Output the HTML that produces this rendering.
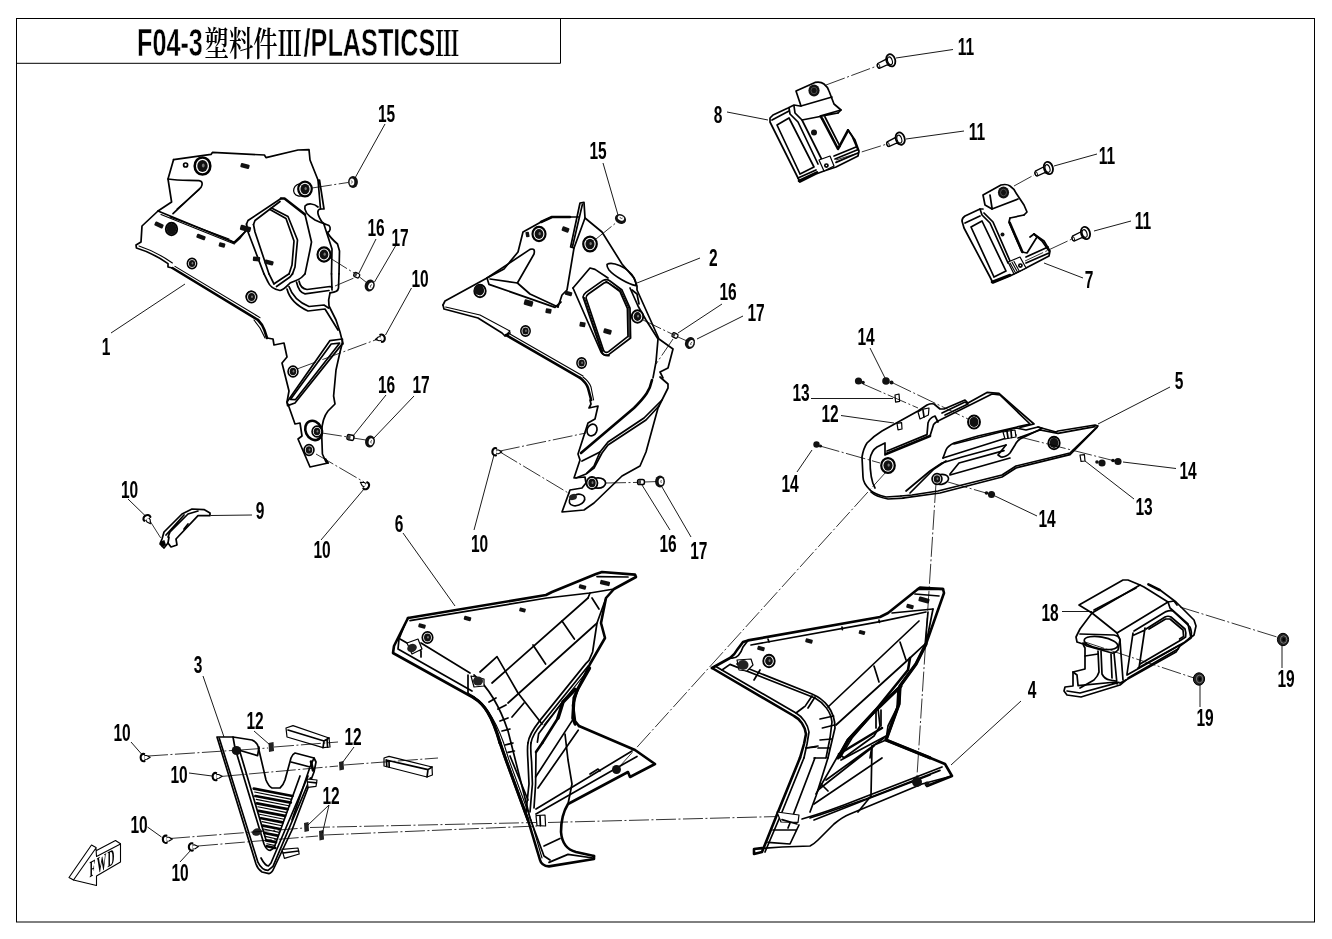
<!DOCTYPE html>
<html lang="zh"><head><meta charset="utf-8"><title>F04-3 PLASTICS III</title>
<style>
html,body{margin:0;padding:0;background:#fff;}
svg{display:block}
.p{fill:none;stroke:#000;stroke-width:1.7;stroke-linejoin:round;stroke-linecap:round}
.t{fill:none;stroke:#000;stroke-width:1.1;stroke-linejoin:round;stroke-linecap:round}
.b{fill:none;stroke:#000;stroke-width:2.6;stroke-linejoin:round;stroke-linecap:round}
.w{fill:#fff;stroke:#000;stroke-width:1.2;stroke-linejoin:round}
.k{fill:#000;stroke:none}
.ld{fill:none;stroke:#000;stroke-width:0.9}
.cl{fill:none;stroke:#000;stroke-width:0.8;stroke-dasharray:20 2.5 2 2.5}
.n{font-family:"Liberation Sans","Noto Sans CJK SC",sans-serif;font-weight:bold;font-size:23.5px;fill:#000;text-anchor:middle}
.ti{font-family:"Liberation Sans","Noto Serif CJK SC",sans-serif;font-weight:bold;font-size:38px;fill:#000}
</style></head><body>
<svg width="1332" height="939" viewBox="0 0 1332 939" style="will-change:transform;opacity:0.999">
<rect width="1332" height="939" fill="#fff"/>
<!-- 00_frame.svg -->
<g id="frame">
<rect x="16.5" y="18.5" width="1298" height="903.5" fill="none" stroke="#000" stroke-width="1"/>
<path d="M16.5,63.3H560.5V18.5" fill="none" stroke="#000" stroke-width="1"/>
<g class="ti">
<text transform="translate(137,55.6) scale(0.664,1)" stroke="#fff" stroke-width="0.5" paint-order="fill stroke">F04-3</text>
<text transform="translate(204.6,56.2) scale(0.716,1)" style="font-weight:600;font-size:34px">塑料件Ⅲ</text>
<text transform="translate(303.6,55.6) scale(0.664,1)" stroke="#fff" stroke-width="0.5" paint-order="fill stroke">/PLASTICS</text>
<text transform="translate(435,56.2) scale(0.716,1)" style="font-weight:600;font-size:34px">Ⅲ</text>
</g>
</g>

<!-- 01_defs.svg -->
<defs>
<g id="grom"><ellipse rx="5.2" ry="5.7" fill="#fff" stroke="#000" stroke-width="1.7"/><ellipse rx="3.5" ry="4" fill="#111"/><ellipse cx="0.5" cy="-0.3" rx="0.9" ry="1.3" fill="#777"/></g>
<g id="clip"><rect x="-4.5" y="-2.2" width="9" height="4.4" rx="1" fill="#111"/></g>
<g id="scr"><path d="M1.2,-2 L4,-1.9 L7.4,0 L4,1.9 L1.2,2 Z" fill="#fff" stroke="#000" stroke-width="1.1" stroke-linejoin="round"/><path d="M1.6,-3.6 C-3.4,-4.6 -3.4,4.6 1.6,3.6" fill="#fff" stroke="#000" stroke-width="2.1" stroke-linecap="round"/></g>
<g id="ring"><ellipse rx="5.2" ry="6.4" fill="#111"/><ellipse cx="1.1" rx="2.5" ry="3.7" fill="#fff"/><path d="M1.8,-1.6 C0.6,-0.8 0.6,0.8 1.8,1.6" fill="none" stroke="#000" stroke-width="0.7"/></g>
<g id="pin"><rect x="-3.4" y="-2.6" width="6.8" height="5.2" rx="1.8" fill="#fff" stroke="#000" stroke-width="1.5"/><rect x="-3" y="-2.2" width="3" height="4.4" rx="1.2" fill="#444"/></g>
</defs>
<style>.p,.t,.b,.w,.cl,.ld{vector-effect:non-scaling-stroke}</style>

<!-- 10_part1.svg -->
<g id="part1">
<!-- view A 5x origin 120,140 -->
<g transform="translate(120,140) scale(0.2)">
<path class="p" d="M268,98 L455,72 L462,62 L722,75 L730,88 L890,50 L945,48 L950,100 L990,200"/>
<path class="p" d="M268,98 L240,195 L258,310 L190,355 L110,430 L105,510 L80,525 L82,540 C150,560 200,590 240,618 L240,635 L262,640"/>
<path class="b" d="M262,640 L690,900"/>
<path class="t" d="M95,530 C150,548 210,578 262,615"/>
<path class="t" d="M275,632 L700,888"/>
<path class="p" d="M240,195 C300,205 350,200 395,203 C414,206 414,222 405,237 L265,368"/>
<path class="t" d="M285,345 L398,247"/>
<path class="p" d="M190,355 L570,512 L635,450"/>
<path class="t" d="M250,385 L545,495"/>
<path class="t" d="M205,372 L572,520"/>
<circle class="p" cx="328" cy="125" r="10"/>
</g>
<use href="#grom" transform="translate(202.5,166) scale(1.5)"/>
<use href="#clip" transform="translate(245,166) rotate(15)"/>
<use href="#clip" transform="translate(159,225) rotate(25)"/>
<use href="#grom" transform="translate(171.5,229) scale(1.1)"/>
<ellipse cx="171.5" cy="229" rx="5" ry="5.5" fill="#111"/>
<use href="#clip" transform="translate(201,237) rotate(20)"/>
<use href="#clip" transform="translate(222,245) rotate(15) scale(0.7,1)"/>
<use href="#grom" transform="translate(192,263.5) scale(0.9)"/>
<use href="#grom" transform="translate(251,296.5) scale(0.9)"/>
<!-- view B 10x origin 230,180 -->
<g transform="translate(230,180) scale(0.1)">
<path class="p" d="M880,0 L905,290 L940,290 L895,0"/>
<path class="p" d="M880,270 C840,235 780,228 750,260 C738,300 760,345 850,400 C900,425 950,440 990,455 C1010,475 1005,515 975,525"/>
<path class="p" d="M905,290 C865,295 870,345 920,420 L950,445"/>
<path class="p" d="M975,525 C1000,575 1040,610 1075,640 L1095,710 L1090,939"/>
<path class="p" d="M940,445 L1020,690 L1015,939"/>
<path class="p" d="M165,440 L180,405 L510,185"/>
<path class="b" d="M510,185 L545,185 L750,345"/>
<path class="p" d="M750,345 L815,620 L800,700 L750,939"/>
<path class="p" d="M235,445 L250,405 L500,215"/>
<path class="p" d="M400,295 L560,385 L640,610 L620,850 L590,939"/>
<path class="p" d="M415,280 L580,365 L675,600 L650,870 L625,939"/>
<path class="p" d="M165,440 L180,520 L340,939"/>
<path class="p" d="M235,445 L250,520 L390,939"/>
<path class="p" d="M0,605 L45,630 L100,580 L165,500"/>
</g>
<use href="#clip" transform="translate(245.5,228.5) rotate(15) scale(1.2)"/>
<use href="#clip" transform="translate(256.5,259) rotate(5) scale(0.8,1)"/>
<use href="#clip" transform="translate(269,262.5) rotate(15)"/>
<ellipse cx="300" cy="190" rx="6.5" ry="6" fill="#fff" stroke="#000" stroke-width="1.3" transform="rotate(-30,300,190)"/>
<use href="#grom" transform="translate(305,189) scale(1.3)"/>
<use href="#grom" transform="translate(324,254.5) scale(1.25)"/>

<!-- view B2 10x origin 230,250 -->
<g transform="translate(230,250) scale(0.1)">
<path class="p" d="M340,239 L380,320 C400,370 450,395 500,405 C540,400 570,360 600,330 C640,310 690,300 720,270 L750,239"/>
<path class="p" d="M390,239 L440,340"/>
<path class="p" d="M590,239 L580,245 L445,335"/>
<path class="p" d="M625,239 L600,270 L465,365"/>
<path class="p" d="M1015,239 L1020,400"/>
<path class="p" d="M1090,239 L1085,380 C1080,410 1060,420 1000,428"/>
<path class="p" d="M690,310 C700,360 730,390 770,395 L1000,365 L1020,372"/>
<path class="p" d="M665,320 C680,390 710,430 750,438 L990,405"/>
<path class="p" d="M570,390 C590,470 650,550 780,610 L950,590 L1080,800"/>
<path class="p" d="M590,365 C615,440 680,520 790,565 L940,550 L985,580"/>
<path class="p" d="M1000,430 C985,480 985,530 990,560 L1060,700 L1100,820 L1130,939"/>
</g>
<use href="#grom" transform="translate(251.5,297)"/>
<!-- view C 5x origin 220,300 -->
<g transform="translate(220,300) scale(0.2)">
<path class="b" d="M190,100 C205,115 215,130 222,150 L235,190"/>
<path class="p" d="M235,190 L265,195 L270,225 L320,215 L335,285 L310,315 L345,455 L335,510 L345,535 L375,620 L400,615 L410,680 L390,695 L450,835 L540,815 L528,795"/>
<path class="t" d="M170,100 L200,140 L225,190"/>
<path class="p" d="M612,215 L600,260 L580,350 L568,480 L575,520 L540,555 C520,580 510,620 508,660 L512,770 L530,810 L540,815"/>
<path class="p" d="M335,510 L550,203 L612,195 L612,218 L375,515 L338,528 Z"/>
<path class="p" d="M352,497 L556,220 L598,216 L378,498 Z"/>
<ellipse class="b" cx="468" cy="652" rx="40" ry="50" transform="rotate(-25,468,652)"/>
</g>
<use href="#grom" transform="translate(293,371.5) scale(0.95)"/>
<use href="#grom" transform="translate(317,431.5) scale(0.95)"/>
<use href="#grom" transform="translate(309,450) scale(0.95)"/>
</g>

<!-- 11_part2.svg -->
<g id="part2">
<!-- view D 5x origin 430,190 -->
<g transform="translate(430,190) scale(0.2)">
<path class="p" d="M65,575 L75,555 L285,440 L370,395 L440,310 L465,210 L555,160 L610,135 L745,135"/>
<path class="b" d="M555,160 L610,135 L700,135"/>
<path class="p" d="M750,65 L770,62 L775,140 L720,290 L703,285 Z"/>
<path class="p" d="M762,72 L712,285"/>
<path class="p" d="M775,140 L860,210 L960,370 L1020,440 L1035,480 L1035,500 L1145,745 L1215,795 L1190,890 L1150,910 L1165,939"/>
<path class="p" d="M720,290 L685,500 L660,525 L640,585"/>
<path class="p" d="M285,440 L500,297 Q528,288 520,320 L437,465 L300,445"/>
<path class="p" d="M437,465 L500,520 L640,585"/>
<path class="p" d="M285,440 L295,472 L625,587 L655,560"/>
<path class="p" d="M65,575 L70,595 L240,640 L360,715 L375,730 L400,715"/>
<path class="t" d="M78,585 L250,625 L400,705 L375,730"/>
<path class="b" d="M380,725 L750,939"/>
<path class="t" d="M395,718 L765,930"/>
<path class="p" d="M715,490 L800,390 L825,397 L890,440"/>
<path class="p" d="M715,490 L855,810 C865,825 880,830 895,828"/>
<path class="p" d="M765,535 C765,525 770,520 780,512 L865,452 C880,445 890,448 900,455 L960,500 L1000,590 L1003,740 L895,822 C880,830 865,825 860,812 Z"/>
<path class="p" d="M780,540 C780,530 785,525 792,520 L870,465 C880,460 888,462 896,468 L950,508 L987,592 L990,732 L893,808 C882,815 872,812 868,802 Z"/>
<path class="t" d="M772,538 L864,808 M878,455 L955,505 L994,590 L996,736"/>
<path class="p" d="M885,372 C910,355 990,385 1020,440 C1030,460 1032,470 1030,478 C990,470 920,430 895,400 C888,390 884,380 885,372 Z"/>
<path class="p" d="M1000,490 L1040,580 L1080,650 L1140,745 L1130,860 L1115,939"/>
<path class="p" d="M1010,500 L1035,520 L1045,570"/>
</g>
<use href="#grom" transform="translate(539,234) scale(1.25)"/>
<use href="#grom" transform="translate(590,244) scale(1.3)"/>
<use href="#grom" transform="translate(480,291) scale(1.1)"/>
<ellipse cx="479" cy="290" rx="5" ry="5" fill="#111"/>
<use href="#grom" transform="translate(525.5,331) scale(0.9)"/>
<use href="#grom" transform="translate(581.6,363) scale(0.9)"/>
<use href="#grom" transform="translate(637.5,316.5) scale(1.1)"/>
<use href="#clip" transform="translate(527.5,234.5) rotate(80) scale(0.6,0.8)"/>
<use href="#clip" transform="translate(565.5,229.5) rotate(20) scale(0.8,1.1)"/>
<use href="#clip" transform="translate(528.5,303) rotate(15) scale(1,1.3)"/>
<use href="#clip" transform="translate(548.5,311) rotate(10) scale(0.65,1.1)"/>
<use href="#clip" transform="translate(582.5,324.5) rotate(10) scale(0.65,1.1)"/>
<use href="#clip" transform="translate(607.5,331.5) rotate(15) scale(0.9,1.1)"/>
<use href="#clip" transform="translate(568.5,293.5) rotate(15) scale(0.8,0.9)"/>
<!-- view E 5x origin 470,340 -->
<g transform="translate(470,340) scale(0.2)">
<path class="p" d="M950,185 L990,220 L990,240 L960,300 L940,340 L880,560 L850,630 L760,680 L620,815 L570,850 L460,860 L500,750 L560,740 L580,715 L575,685 L520,690 L550,600 L540,570 L590,415 L625,395 L640,330 L595,340 L605,320 L600,300"/>
<path class="b" d="M550,189 C570,205 585,225 590,240 L606,300"/>
<path class="t" d="M565,185 C585,200 600,220 605,235 L618,300"/>
<path class="b" d="M910,200 C900,250 880,280 820,340 L555,565"/>
<path class="p" d="M960,300 L870,390 L690,510 L650,560 L560,605"/>
<path class="p" d="M945,330 L880,400 L690,525 L660,565 L620,640 L580,670 L530,690"/>
<path class="p" d="M650,560 L620,630 L585,665"/>
<ellipse class="p" cx="610" cy="450" rx="24" ry="30" transform="rotate(25,610,450)"/>
<ellipse class="p" cx="640" cy="715" rx="38" ry="26"/>
<ellipse class="p" cx="535" cy="800" rx="40" ry="27" transform="rotate(-20,535,800)"/>
</g>
<use href="#grom" transform="translate(592,483) scale(1.05)"/>
<ellipse cx="573" cy="497" rx="4" ry="3" fill="#222" transform="rotate(-20,573,497)"/>
</g>

<!-- 12_part6.svg -->
<g id="part6">
<!-- view F 5x origin 380,555 -->
<g transform="translate(380,555) scale(0.2)">
<path class="b" d="M140,315 L830,200 L860,185 L1080,95 L1110,85 L1275,98 L1280,110 L1170,170 L1130,215 L1105,340 L1125,415 L1050,545 L985,680 L965,750 L975,830 L995,855"/>
<path class="b" d="M140,315 L70,455 L65,490 L470,715 C520,745 560,800 600,939"/>
<path class="p" d="M150,328 L835,215 L1050,190 L1170,170"/>
<path class="b" style="stroke-width:3.2" d="M1048,566 L991,666 L970,714 L964,816 L976,846"/>
<path class="b" style="stroke-width:3.2" d="M470,715 C520,745 560,800 600,939"/>
<path class="p" d="M1085,108 L1240,110"/>
<path class="p" d="M125,345 L95,420 L90,470 L460,680"/>
<path class="p" d="M205,440 L450,590"/>
<path class="p" d="M470,600 C540,660 600,760 640,880 L655,939"/>
<path class="t" d="M440,690 C500,720 565,790 618,939"/>
<path class="p" d="M500,585 L585,508 L690,690 L810,845"/>
<path class="p" d="M560,640 L1040,215"/>
<path class="p" d="M640,740 L1080,345"/>
<path class="p" d="M660,810 L720,740"/>
<path class="p" d="M765,450 L828,545 M910,330 L972,420 M1060,215 L1095,270"/>
<path class="p" d="M545,735 L580,715 M590,770 L630,750 M600,830 L640,815 M610,880 L650,870"/>
<path class="p" d="M1085,340 L1063,485 L1045,527 L1030,542 L799,828 C770,865 745,900 740,939"/>
<path class="p" d="M1042,554 L811,840 C785,870 762,900 755,939"/>
<path class="t" d="M1048,566 L820,850"/>
<path class="b" style="stroke-width:3.6" d="M975,672 L915,735 L890,815"/>
<path class="b" d="M890,815 L812,939"/>
<path class="p" d="M919,726 L793,894 L787,936"/>
<path class="p" d="M1050,190 L1040,215 M1130,215 L1085,340"/>

<path class="p" d="M440,600 L440,690 M100,420 L205,480 L205,510"/>
<path class="w" d="M135,440 L190,420 L210,470 L160,495 Z"/>
<path class="w" d="M455,605 L520,620 L520,655 L470,660 Z"/>
</g>
<use href="#grom" transform="translate(427.5,637.5) scale(1.0)"/>
<ellipse cx="412" cy="648" rx="5" ry="4" fill="#222" transform="rotate(-25,412,648)"/>
<ellipse cx="478" cy="681" rx="5" ry="4.5" fill="#222"/>
<use href="#clip" transform="translate(422,626) rotate(15) scale(0.8,0.9)"/>
<use href="#clip" transform="translate(467.5,618.5) rotate(15) scale(0.8,0.9)"/>
<use href="#clip" transform="translate(522.5,610) rotate(15) scale(0.7,0.9)"/>
<use href="#clip" transform="translate(582.5,587) rotate(15) scale(0.8,0.9)"/>
<use href="#clip" transform="translate(605,583) rotate(15) scale(1.1,1)"/>
<!-- view G 5x origin 440,700 -->
<g transform="translate(440,700) scale(0.2)">
<path class="b" d="M300,214 L330,300 L440,600 L500,800 C505,820 520,830 545,832 L770,795 L770,780"/>
<path class="b" d="M695,130 L975,250 L1075,320 L950,385 L940,360 L640,520 C615,560 605,620 605,660 C610,720 640,750 680,760 L770,780"/>
<path class="p" d="M355,214 L450,590 L520,780 L550,800"/>
<path class="b" style="stroke-width:3" d="M300,214 L330,300 L440,600"/>
<path class="t" d="M318,214 L345,300 L455,600 L510,790"/>
<path class="p" d="M325,225 L365,215 M340,262 L372,255"/>
<path class="p" d="M440,214 C435,240 438,280 440,310 L445,420 L430,560"/>
<path class="b" d="M512,214 L480,260"/>
<path class="p" d="M480,260 L478,420 L470,540"/>
<path class="p" d="M455,214 C452,240 455,280 458,310 L462,420 L450,560"/>
<path class="p" d="M625,170 L640,300 L660,420 L640,520"/>
<path class="p" d="M480,545 L960,255 M480,570 L985,282"/>
<path class="p" d="M478,385 L661,103 M490,440 L691,151"/>
<path class="p" d="M545,812 L640,772 L765,790"/>
<path class="p" d="M520,730 L600,692"/>
<path class="p" d="M350,280 L440,500"/>
<path class="w" d="M480,578 L525,575 L528,630 L485,628 Z"/>
<path class="p" d="M500,580 L502,628 M750,370 L790,345 L800,355"/>
</g>
<ellipse cx="616.5" cy="769.5" rx="4.5" ry="4.5" fill="#111"/>
</g>

<!-- 13_part4.svg -->
<g id="part4">
<!-- view H 5x origin 700,570 -->
<g transform="translate(700,570) scale(0.2)">
<path class="b" d="M60,490 L150,440 C170,425 180,410 185,400 L215,360 L240,352 L900,235 L940,215 L1090,95 L1100,88 L1215,95 L1220,115 L1190,200 L1130,370 L1080,470 L1000,580 L995,670 L930,850 L1149,939"/>
<path class="b" d="M60,490 L470,730 C500,745 525,780 530,820 L520,870 L500,939"/>
<path class="b" style="stroke-width:3.3" d="M1130,370 L1080,470 L1000,580 L995,670 L930,850 L1149,939"/>
<path class="b" style="stroke-width:3.2" d="M1005,580 L870,710 L740,850 L690,939"/>
<path class="p" d="M75,480 L480,715 C515,735 540,775 545,810 L535,870 L520,939"/>
<path class="p" d="M255,375 L900,258 L1130,210"/>
<path class="p" d="M340,345 L345,360 M710,285 L712,298 M895,250 L897,262"/>
<path class="b" d="M1090,95 L1215,95"/>
<path class="p" d="M960,215 L1165,195 M1075,120 L1195,130"/>
<path class="p" d="M110,500 L150,472 L575,640 C620,665 655,710 660,760 L650,840 L630,939"/>
<path class="p" d="M185,470 L560,620 C620,645 675,700 675,790 L640,939"/>
<path class="p" d="M300,500 L270,550 M575,635 L540,690 M560,630 L525,682 M520,685 L480,715"/>
<path class="p" d="M600,745 L668,730 M612,790 L672,775 M600,850 L658,845 M590,890 L648,890 M530,890 L590,880"/>
<path class="p" d="M640,685 L1095,255"/>
<path class="p" d="M680,775 L1050,440 L1125,370"/>
<path class="p" d="M870,480 L895,560 M1000,360 L1030,450"/>
<path class="p" d="M1140,210 L1125,380 M1165,195 L1130,370"/>
<path class="b" d="M1050,440 L1040,500 L870,710 L740,850 L690,939"/>
<path class="p" d="M1000,580 L890,690 L760,840 L700,939"/>
<path class="p" d="M890,690 L900,780 L870,830 L720,939"/>
<path class="p" d="M990,600 L985,690 L940,780 L930,850"/>
<path class="p" d="M880,700 L880,790 M905,700 L905,780"/>
<path class="p" d="M850,939 L860,880 L930,850"/>
<path class="p" d="M150,440 C175,445 200,430 215,385 L240,352"/>
<path class="w" d="M185,450 L255,445 L265,475 L235,505 L195,500 Z"/>
</g>
<ellipse cx="743" cy="665" rx="5.5" ry="5" fill="#222"/>
<use href="#grom" transform="translate(769,661) scale(1.1)"/>
<use href="#clip" transform="translate(761,648.5) rotate(15) scale(0.8,0.9)"/>
<use href="#clip" transform="translate(809,641) rotate(15) scale(0.8,0.9)"/>
<use href="#clip" transform="translate(862,632.5) rotate(15) scale(0.7,0.9)"/>
<use href="#clip" transform="translate(910,606.5) rotate(15) scale(0.8,0.9)"/>
<use href="#clip" transform="translate(924,600) rotate(15) scale(1.2,1.1)"/>
<!-- view I 5x origin 730,700 -->
<g transform="translate(730,700) scale(0.2)">
<path class="b" d="M350,289 L240,560 L160,760 L120,770 L120,745 L160,740"/>
<path class="p" d="M370,289 L260,560 L175,760"/>
<path class="p" d="M490,289 L430,480 L400,560"/>
<path class="p" d="M425,289 L310,590 L290,640"/>
<path class="p" d="M380,240 L430,235 M420,290 L478,290"/>
<path class="w" d="M235,560 L345,575 L340,612 L255,610 Z"/>
<path class="p" d="M260,598 L335,620 M215,650 L330,650 M190,712 L300,720 L345,625"/>
<path class="p" d="M120,745 L260,735 L400,730 C420,720 430,710 440,700 L520,620 C550,595 575,580 600,570 L960,420 L1110,380"/>
<path class="b" d="M999,289 L1075,320 L1110,380 L985,430"/>
<path class="p" d="M360,595 C450,570 560,530 660,490 L1060,335"/>
<path class="p" d="M400,590 C480,565 580,530 680,495 L1050,352"/>
<path class="p" d="M420,600 L700,490 L1000,375"/>
<path class="p" d="M710,230 L705,480 L640,560"/>
<path class="b" d="M545,270 L760,140"/>
<path class="p" d="M555,300 L780,180"/>
<path class="p" d="M480,400 L770,190 M420,520 L760,290 M455,420 L490,455 M440,450 L720,230"/>
<path class="p" d="M545,270 L430,470 M570,289 L545,270"/>
</g>
<ellipse cx="917" cy="782" rx="5" ry="5" fill="#111"/>
<ellipse cx="927" cy="784" rx="2.5" ry="2.5" fill="#111"/>
</g>

<!-- 14_part5.svg -->
<g id="part5">
<!-- view J 5x origin 850,355 -->
<g transform="translate(850,355) scale(0.2)">
<path class="p" d="M255,705 L180,710 C140,700 115,690 100,675 C75,650 65,630 65,610 L60,510 C65,480 75,455 85,440 C110,415 135,395 160,380 L340,280 L385,250 C400,243 412,243 420,245 L450,270 L470,270 L575,225 L590,240 L685,187 L745,192 L920,345 L850,362"/>
<path class="p" d="M940,360 L1030,385 L1040,380 L1225,350 L1240,355 L1110,480 L1100,490 L830,555 L760,600 L440,680 L310,700 L255,705"/>
<path class="p" d="M270,716 L190,720 C150,712 120,700 105,685 M262,716 L450,690 L760,610 L830,565 L1100,498 L1235,362"/>
<path class="p" d="M125,665 C110,640 100,600 100,520 C105,490 120,470 135,460 L175,440 L175,500"/>
<path class="b" d="M180,495 L400,405"/>
<path class="p" d="M185,480 L385,398 L390,340 C395,320 410,310 425,305 L440,335"/>
<path class="p" d="M400,405 L418,348 C425,338 435,332 450,325 L710,195 L750,200 L900,345 L640,405 L520,440 C500,450 485,462 480,475 L465,515"/>
<path class="w" d="M340,285 L350,320 L392,300 L395,265 L360,272 Z"/>
<path class="p" d="M365,275 L370,310"/>
<path class="p" d="M460,290 L575,235 L590,245 L475,300"/>
<path class="p" d="M465,515 L830,400 M520,445 L830,365 L880,375 L940,360 L960,367 L850,420 C835,430 830,440 825,450 L800,490 C785,505 770,512 755,510 L740,500 L780,450"/>
<path class="p" d="M780,450 L560,510 L460,540 L400,580 L280,680"/>
<path class="p" d="M480,530 L420,570 L300,690"/>
<path class="p" d="M500,595 L545,540 L770,478"/>
<path class="p" d="M500,600 L800,515"/>
<path class="p" d="M840,415 L950,375 L1040,392 L1225,358"/>
<path class="w" d="M765,385 L825,375 L830,410 L775,420 Z"/>
<path class="p" d="M785,382 L790,415 M805,380 L808,412"/>
<path class="w" d="M225,200 L245,195 L248,232 L228,236 Z"/>
<path class="w" d="M235,342 L258,338 L260,370 L240,374 Z"/>
<path class="w" d="M1150,500 L1172,498 L1175,530 L1155,532 Z"/>
<ellipse class="p" cx="455" cy="622" rx="38" ry="25" transform="rotate(-10,455,622)"/>
</g>
<use href="#grom" transform="translate(974,422) scale(1.15)"/>
<ellipse cx="974" cy="422" rx="4.5" ry="5" fill="#111"/>
<use href="#grom" transform="translate(888,465.5) scale(1.3)"/>
<use href="#grom" transform="translate(937,479) scale(0.95)"/>
<use href="#grom" transform="translate(1054,443) scale(1.1)"/>
<ellipse cx="1054" cy="443" rx="4.5" ry="5" fill="#111"/>
<g fill="#111">
<circle cx="858.5" cy="381" r="3.6"/><circle cx="863" cy="382.5" r="1.8"/>
<circle cx="886" cy="381" r="3.8"/><circle cx="891.5" cy="382.5" r="2"/>
<circle cx="991.5" cy="494.5" r="3.6"/><circle cx="986.5" cy="493" r="1.8"/>
<circle cx="1102" cy="463" r="3.6"/><circle cx="1097" cy="462" r="1.8"/>
<circle cx="1118" cy="461.5" r="3.6"/><circle cx="1113" cy="460.5" r="1.8"/>
<circle cx="816.5" cy="444.5" r="3.2"/><circle cx="820.5" cy="446" r="1.6"/>
</g>
</g>

<!-- 15_part78.svg -->
<g id="part8">
<!-- view K 5x origin 740,20 -->
<g transform="translate(740,20) scale(0.2)">
<path class="p" d="M305,430 L280,355 L375,312 C395,308 410,312 420,320 C435,332 442,345 445,355 L470,420 L505,450 L490,465"/>
<path class="p" d="M305,430 L460,385"/>
<path class="p" d="M300,430 L270,425 L240,440 L165,475 L150,490 L150,510 L290,790 L300,810 L380,770 L420,755 L480,735 L590,680 L595,655 L575,600 L540,550"/>
<path class="b" d="M410,492 L490,645 L540,552"/>
<path class="p" d="M505,450 L400,480 L410,495 M425,485 L500,632 M490,465 L310,500"/>
<path class="p" d="M185,525 L245,490 L370,735 L300,770 Z"/>
<path class="p" d="M160,500 L245,455"/>
<path class="p" d="M245,440 L250,470 L290,510 L390,720"/>
<path class="p" d="M270,430 L275,465 L310,500 L410,700"/>
<path class="b" d="M295,805 L385,762"/>
<path class="p" d="M290,790 L380,750"/>
<path class="w" d="M395,700 L450,680 L470,730 L420,755 Z"/>
<circle class="p" cx="432" cy="728" r="8"/>
<path class="p" d="M470,680 L580,635 M480,712 L590,665 M475,695 L585,650"/>
<path class="p" d="M540,550 L560,580 L590,650"/>
</g>
<ellipse cx="814" cy="90.5" rx="5.6" ry="6" fill="#111"/><ellipse cx="814" cy="90.5" rx="3" ry="3.3" fill="none" stroke="#666" stroke-width="0.7"/>
<circle cx="814" cy="132.5" r="3" fill="#111"/>
</g>
<g id="part7">
<!-- view L 5x origin 930,125 -->
<g transform="translate(930,125) scale(0.2)">
<path class="p" d="M310,420 L275,400 L265,350 L355,300 C375,295 390,298 400,305 C415,315 425,328 430,340 L470,400 L485,435 L470,450"/>
<path class="p" d="M310,420 L440,370 M300,350 L310,415"/>
<path class="p" d="M265,420 L250,420 L175,455 C165,462 160,470 160,480 L170,515 L300,760 L315,790 L400,755 L480,715 L595,655 L600,630 L570,580 L520,545"/>
<path class="p" d="M400,465 L395,485 L460,635 L485,640 L535,560 L520,545 L500,560"/>
<path class="b" d="M398,488 L462,635"/>
<path class="p" d="M400,465 L470,450"/>
<path class="p" d="M250,420 L260,450 L300,490 L390,690"/>
<path class="p" d="M270,440 L315,485 L400,680"/>
<path class="p" d="M205,510 L260,480 L380,730 L320,760 Z"/>
<path class="p" d="M175,490 L250,455"/>
<path class="b" d="M310,785 L400,750"/>
<path class="w" d="M390,685 L450,660 L480,715 L420,745 Z"/>
<path class="t" d="M400,690 L428,740 M410,686 L438,736 M420,682 L446,730"/>
<circle class="p" cx="452" cy="703" r="8"/>
<path class="p" d="M480,660 L590,610 M480,690 L595,640"/>
<path class="p" d="M520,545 L560,580 L595,630"/>
</g>
<ellipse cx="1003.5" cy="192.5" rx="5.6" ry="6" fill="#111"/><ellipse cx="1003.5" cy="192.5" rx="3" ry="3.3" fill="none" stroke="#666" stroke-width="0.7"/>
<circle cx="1002.5" cy="234.5" r="2" fill="#111"/>
</g>
<defs>
<g id="bolt"><path d="M-13.1,3.2 L-5,-0.9 L-3,-3.6 L-0.5,5.6 L-3.8,4.6 L-11.3,8.1 C-13.2,7.8 -14,4.8 -13.1,3.2 Z" fill="#fff" stroke="#000" stroke-width="1.3"/><ellipse cx="-12.3" cy="5.7" rx="1.2" ry="2.2" transform="rotate(-20,-12.3,5.7)" fill="none" stroke="#000" stroke-width="0.9"/><ellipse rx="4.4" ry="6.3" fill="#fff" stroke="#000" stroke-width="1.8" transform="rotate(-18)"/><ellipse cx="-1" cy="0.2" rx="2.3" ry="4" fill="none" stroke="#000" stroke-width="1.1" transform="rotate(-18)"/></g>
</defs>
<use href="#bolt" transform="translate(890.8,60.3)"/>
<use href="#bolt" transform="translate(900.2,138.6)"/>
<use href="#bolt" transform="translate(1048.4,168)"/>
<use href="#bolt" transform="translate(1085.5,233)"/>

<!-- 16_part18.svg -->
<g id="part18">
<!-- view M 5x origin 1040,560 -->
<g transform="translate(1040,560) scale(0.2)">
<path class="p" d="M195,225 L415,100 L440,100 L500,125 L260,265 Z"/>
<path class="p" d="M270,250 L480,140"/>
<path class="p" d="M500,125 L520,135 L640,210 L385,365 L260,265"/>
<path class="p" d="M600,150 L680,210 L770,300 L780,330 L770,375 L745,395"/>
<path class="p" d="M640,210 L650,240 L740,320 L755,390 L700,430 L680,460 L430,600 L400,615"/>
<path class="p" d="M640,210 L670,205 L685,225"/>
<path class="b" d="M542,122 L598,150"/>
<path class="p" d="M470,355 L630,258 C645,252 655,252 665,255 L750,335 C757,350 758,370 755,385 L725,410 L490,540"/>
<path class="p" d="M530,345 L625,285 C635,280 645,280 655,285 L725,345 C730,360 730,375 728,385 L705,400 L500,520"/>
<path class="p" d="M545,345 L628,295 L650,295 L715,350 L718,382 L698,395"/>
<path class="p" d="M440,590 L690,445 M435,575 L700,425"/>
<path class="p" d="M465,365 L435,570 M525,340 L495,540 M470,375 L525,350"/>
<path class="p" d="M260,265 L200,345 L180,385 L185,410 L215,420 L225,440 L225,545 L165,560 L165,630 L125,635 L120,655 L135,675 L205,685 L400,625 L430,600"/>
<path class="p" d="M200,370 L370,375 C390,380 400,390 400,400 L390,450 C380,462 370,466 360,465 L235,430 L215,415"/>
<ellipse class="p" cx="305" cy="415" rx="85" ry="30" transform="rotate(10,305,415)"/>
<path class="p" d="M385,365 L400,400 L405,470 L415,600"/>
<path class="p" d="M370,465 L385,620"/>
<path class="p" d="M290,455 L295,560 C290,580 280,590 270,600 L200,640"/>
<path class="p" d="M305,455 L310,570 C320,590 335,598 350,600 L380,605"/>
<path class="p" d="M355,470 L360,590"/>
<path class="p" d="M225,480 L290,470"/>
<path class="p" d="M190,628 L380,610 M165,560 L185,575 L190,625 M135,655 L200,665 L395,612"/>
</g>
<defs><g id="nut"><ellipse rx="5.6" ry="6.2" fill="#222" stroke="#000" stroke-width="1"/><ellipse cx="0.6" rx="3.2" ry="3.8" fill="none" stroke="#888" stroke-width="0.8"/><ellipse cx="0.8" rx="1.4" ry="1.8" fill="#000"/></g></defs>
<use href="#nut" transform="translate(1283,639.5)"/>
<use href="#nut" transform="translate(1199,679)"/>
</g>

<!-- 17_part3.svg -->
<g id="part3">
<!-- view N 5x origin 180,700 -->
<g transform="translate(180,700) scale(0.2)">
<path class="p" d="M185,185 L265,185 L360,200 C380,210 388,220 390,230 L430,400 C440,425 450,435 460,440 L500,440 C512,430 520,415 525,400 L555,290 C560,275 568,268 575,265 L670,290 L680,310 L670,360 L560,650 L470,840 C462,860 455,866 445,868 L410,860 C395,850 385,835 380,820 Z"/>
<path class="p" d="M196,190 L390,812 C405,842 425,852 440,852 L465,832 L652,390"/>
<path class="p" d="M405,790 C418,815 430,828 442,830 L455,815 L640,380"/>
<path class="p" d="M265,185 L275,240 L420,720 C430,745 440,752 450,752 L470,740 L600,380"/>
<path class="p" d="M300,260 L430,700"/>
<path class="p" d="M275,245 L388,278 L395,235"/>
<path class="p" d="M555,310 L650,335 L670,290 M650,335 L560,600"/>
<g>
<path class="b" style="stroke-width:2.7" d="M369,443 L562,480"/>
<path class="b" style="stroke-width:2.7" d="M377,480 L554,513"/>
<path class="b" style="stroke-width:2.7" d="M385,517 L538,546"/>
<path class="b" style="stroke-width:2.7" d="M393,554 L525,579"/>
<path class="b" style="stroke-width:2.7" d="M406,591 L513,612"/>
<path class="b" style="stroke-width:2.7" d="M414,628 L500,645"/>
<path class="b" style="stroke-width:2.7" d="M422,665 L488,678"/>
<path class="b" style="stroke-width:2.7" d="M430,702 L480,711"/>
<path class="b" style="stroke-width:2.7" d="M435,731 L476,740"/>
</g>
<path class="t" d="M373,460 L558,497 M381,497 L550,530 M389,534 L534,563 M397,571 L521,596 M410,608 L509,629 M418,645 L496,662 M426,682 L484,695 M434,719 L476,728"/>
<path class="w" d="M635,395 L685,400 L680,432 L640,437 Z"/>
<path class="p" d="M640,410 L682,414"/>
<path class="w" d="M510,747 L590,740 L596,770 L522,792 Z"/>
<path class="p" d="M515,765 L593,755"/>
<path class="b" d="M655,308 L665,352"/>
<!-- strips -->
<path class="w" d="M530,140 L565,128 L745,190 L750,235 L715,238 L535,185 Z"/>
<path class="p" d="M540,150 L720,205 L715,238 M720,205 L745,190 M735,195 L738,236"/>
<path class="w" d="M1020,290 L1045,282 L1260,335 L1262,375 L1235,385 L1020,330 Z"/>
<path class="p" d="M1030,300 L1240,348 L1235,385 M1240,348 L1260,335 M1032,300 L1034,332 M1045,304 L1046,336"/>
</g>
<ellipse cx="236.5" cy="750.5" rx="4.8" ry="4.6" fill="#111"/>
<ellipse cx="257" cy="832" rx="5" ry="3.6" fill="#222" transform="rotate(-20,257,832)"/>
<g fill="#222"><path d="M268.5,743 L273.5,742 L274,751 L269,752Z"/><path d="M339,762 L343.5,761 L344,769.5 L339.5,770.5Z"/><path d="M304,823 L308.5,822 L309,831 L304.5,832Z"/><path d="M319,831 L323.5,830 L324,839.5 L319.5,840.5Z"/></g>
</g>

<!-- 18_small.svg -->
<g id="part9">
<!-- view P 5x origin 100,460 -->
<g transform="translate(100,460) scale(0.2)">
<path class="p" d="M310,395 L320,360 L410,270 L460,245 L520,248 L550,265 L550,278 L490,278 L380,395 L385,425 L355,435 L340,415 L320,440 L300,420 Z"/>
<path class="p" d="M340,385 L350,360 L440,270 L490,255 M330,375 L420,275 M420,345 L440,320 M340,415 L345,385"/>
<path class="k" d="M298,410 L322,400 L330,425 L310,438 Z"/>
</g>
</g>
<g id="fwd">
<!-- view Q 10x origin 50,815 -->
<g transform="translate(50,815) scale(0.1)">
<path class="t" d="M235,650 L460,330 L465,415 L705,290 L705,470 L465,610 L465,705 Z"/>
<path class="t" d="M235,650 L190,625 L415,300 L460,325 M465,355 L655,255 L705,288"/>
</g>
<text transform="translate(89.5,877.5) skewY(-29) scale(0.42,1)" style="font-family:'Liberation Serif',serif;font-weight:bold;font-size:23px;letter-spacing:3px" fill="#000">FWD</text>
</g>
<g id="fasteners">
<!-- rings 15 -->
<use href="#ring" transform="translate(353,182) rotate(180) scale(0.95)"/>
<g transform="translate(620.5,219) rotate(-65)"><use href="#ring" transform="scale(0.9)"/></g>
<!-- pin 16 / ring 17 -->
<use href="#pin" transform="translate(356.7,275.2) rotate(25) scale(0.85)"/>
<use href="#ring" transform="translate(369.7,285.5) rotate(20) scale(0.95)"/>
<use href="#pin" transform="translate(350.5,437.5) rotate(10)"/>
<use href="#ring" transform="translate(370,441.5) rotate(10) scale(0.95)"/>
<use href="#pin" transform="translate(675,335.5) rotate(25) scale(0.85)"/>
<use href="#ring" transform="translate(690,343) rotate(20) scale(0.95)"/>
<use href="#pin" transform="translate(641,482)"/>
<use href="#ring" transform="translate(660,481.5) scale(0.95)"/>
<!-- screws 10 -->
<g id="s10">
<use href="#scr" transform="translate(382.6,338) rotate(168)"/>
<use href="#scr" transform="translate(366.6,486.2) rotate(212)"/>
<use href="#scr" transform="translate(494.5,451.7) rotate(2)"/>
<use href="#scr" transform="translate(146.5,517.5) rotate(58)"/>
<use href="#scr" transform="translate(142.8,757.6) rotate(-3)"/>
<use href="#scr" transform="translate(214.8,776.6) rotate(-3)"/>
<use href="#scr" transform="translate(165,839.3) rotate(-3)"/>
<use href="#scr" transform="translate(191,847) rotate(-3)"/>
</g>
</g>

<!-- 80_annot.svg -->
<g id="annot">
<g class="cl">
<path d="M312,188 L348,182.5"/>
<path d="M330,258 L354,273"/>
<path d="M335,286 L354,278"/>
<path d="M359.5,277 L366.5,282.5"/>
<path d="M297,369 L378,339"/>
<path d="M322,433 L348,437"/>
<path d="M353,438 L366,440"/>
<path d="M316,454 L364,482"/>
<path d="M596,239 L617,222"/>
<path d="M643,320 L672,334"/>
<path d="M678,337 L687,341"/>
<path d="M673,339 L656,364"/>
<path d="M500,451 L586,433"/>
<path d="M500,452 L570,494"/>
<path d="M606,483 L638,482.4"/>
<path d="M644,482 L656,481.6"/>
<path d="M886,472 L620,766"/>
<path d="M936,483 L917,776"/>
<path d="M148,756 L232,750.5"/>
<path d="M240,750 L268,748"/>
<path d="M274,747 L338,742"/>
<path d="M222,776.4 L338,766"/>
<path d="M344,765 L438,758"/>
<path d="M170,838.5 L304,828"/>
<path d="M310,827.5 L536,822.5"/>
<path d="M548,822.5 L775,816.6"/>
<path d="M198,846 L318,836"/>
<path d="M324,835 L537,826"/>
<path d="M150,521 L162,540"/>
<path d="M826,85 L877,66"/>
<path d="M836,160 L887,144"/>
<path d="M1014,186 L1034,175"/>
<path d="M1025,261 L1072,239"/>
<path d="M820,446 L880,463"/>
<path d="M863,384 L918,408"/>
<path d="M893,383 L968,419"/>
<path d="M948,482 L986,493"/>
<path d="M1020,437 L1115,461"/>
<path d="M1180,607 L1277,637"/>
<path d="M1085,642 L1194,678"/>
</g><g class="ld">
<path d="M385,124 L355,178"/>
<path d="M185,284 L111,333"/>
<path d="M376,239 L359,273"/>
<path d="M395.5,246 L374.5,282"/>
<path d="M411.5,288 L385.5,335"/>
<path d="M386,395 L353,436"/>
<path d="M414,396 L373,439"/>
<path d="M603,163 L618,215"/>
<path d="M700,258 L637,283"/>
<path d="M722,304 L678,333"/>
<path d="M743,316 L697,339"/>
<path d="M321,540 L364,489"/>
<path d="M494,455 L474,530"/>
<path d="M642,485 L670,530"/>
<path d="M662,487 L691,537"/>
<path d="M403,533 L455,606"/>
<path d="M203,676 L224,737"/>
<path d="M254,731 L269.5,744.5"/>
<path d="M354,747 L342.5,762.5"/>
<path d="M329,805 L308,825"/>
<path d="M329,805 L322.5,833"/>
<path d="M131,742 L141.5,754"/>
<path d="M189,773 L212,776"/>
<path d="M147.5,827 L161.5,837"/>
<path d="M191,850 L180,862"/>
<path d="M128,499 L145.5,516"/>
<path d="M211,515.5 L252,515"/>
<path d="M727,112 L768,120"/>
<path d="M896,58 L953,49.5"/>
<path d="M906,139 L964,131"/>
<path d="M1054,166 L1097,154"/>
<path d="M1094,231 L1131,221"/>
<path d="M1044,263 L1083,278"/>
<path d="M870,348 L885,378"/>
<path d="M811,398.5 L893,398.5"/>
<path d="M841,415.5 L894,423"/>
<path d="M812,450 L797,472"/>
<path d="M1170,387 L1098,424"/>
<path d="M1123,462 L1176,468.5"/>
<path d="M1085,461 L1134,499"/>
<path d="M995,496 L1037,516"/>
<path d="M1062,611.5 L1092,611.5"/>
<path d="M1282,646 L1282,668"/>
<path d="M1200,685 L1200,707"/>
<path d="M951,765 L1021,701"/>
</g>
<text class="n" transform="translate(386.5,122.1) scale(0.66,1)">15</text>
<text class="n" transform="translate(376,236.1) scale(0.66,1)">16</text>
<text class="n" transform="translate(400,245.6) scale(0.66,1)">17</text>
<text class="n" transform="translate(420,286.6) scale(0.66,1)">10</text>
<text class="n" transform="translate(106,354.6) scale(0.66,1)">1</text>
<text class="n" transform="translate(386.5,392.6) scale(0.66,1)">16</text>
<text class="n" transform="translate(421,392.6) scale(0.66,1)">17</text>
<text class="n" transform="translate(598,158.6) scale(0.66,1)">15</text>
<text class="n" transform="translate(713.3,266.40000000000003) scale(0.66,1)">2</text>
<text class="n" transform="translate(728,299.6) scale(0.66,1)">16</text>
<text class="n" transform="translate(756,320.6) scale(0.66,1)">17</text>
<text class="n" transform="translate(966,55.1) scale(0.66,1)">11</text>
<text class="n" transform="translate(718,122.6) scale(0.66,1)">8</text>
<text class="n" transform="translate(977,139.6) scale(0.66,1)">11</text>
<text class="n" transform="translate(1107,163.6) scale(0.66,1)">11</text>
<text class="n" transform="translate(1143,228.6) scale(0.66,1)">11</text>
<text class="n" transform="translate(1089,287.6) scale(0.66,1)">7</text>
<text class="n" transform="translate(866,344.6) scale(0.66,1)">14</text>
<text class="n" transform="translate(801,400.6) scale(0.66,1)">13</text>
<text class="n" transform="translate(830,421.6) scale(0.66,1)">12</text>
<text class="n" transform="translate(1179,388.6) scale(0.66,1)">5</text>
<text class="n" transform="translate(1188,478.6) scale(0.66,1)">14</text>
<text class="n" transform="translate(790,491.6) scale(0.66,1)">14</text>
<text class="n" transform="translate(1144,514.6) scale(0.66,1)">13</text>
<text class="n" transform="translate(1047,526.6) scale(0.66,1)">14</text>
<text class="n" transform="translate(129.5,497.6) scale(0.66,1)">10</text>
<text class="n" transform="translate(260,518.6) scale(0.66,1)">9</text>
<text class="n" transform="translate(322,557.6) scale(0.66,1)">10</text>
<text class="n" transform="translate(399,531.6) scale(0.66,1)">6</text>
<text class="n" transform="translate(479.5,551.6) scale(0.66,1)">10</text>
<text class="n" transform="translate(668,551.6) scale(0.66,1)">16</text>
<text class="n" transform="translate(698.8,559.1) scale(0.66,1)">17</text>
<text class="n" transform="translate(198,672.6) scale(0.66,1)">3</text>
<text class="n" transform="translate(255,728.6) scale(0.66,1)">12</text>
<text class="n" transform="translate(353,744.6) scale(0.66,1)">12</text>
<text class="n" transform="translate(122,740.6) scale(0.66,1)">10</text>
<text class="n" transform="translate(179,782.6) scale(0.66,1)">10</text>
<text class="n" transform="translate(331,803.6) scale(0.66,1)">12</text>
<text class="n" transform="translate(139,832.6) scale(0.66,1)">10</text>
<text class="n" transform="translate(180,880.6) scale(0.66,1)">10</text>
<text class="n" transform="translate(1050,620.6) scale(0.66,1)">18</text>
<text class="n" transform="translate(1032,697.6) scale(0.66,1)">4</text>
<text class="n" transform="translate(1286,686.6) scale(0.66,1)">19</text>
<text class="n" transform="translate(1205,725.6) scale(0.66,1)">19</text>
</g>
</svg>
</body></html>
